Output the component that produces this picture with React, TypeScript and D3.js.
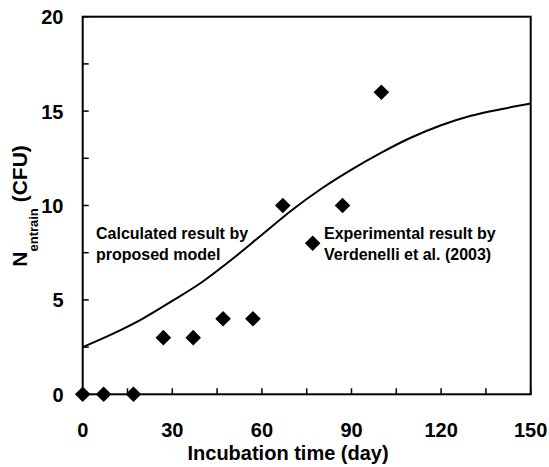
import React from "react";
import * as d3 from "d3";

const expDays = [0, 7, 17, 27, 37, 47, 57, 67, 77, 87, 100];
const expValues = [0, 0, 0, 3, 3, 4, 4, 10, 8, 10, 16];
const modelDays = [0, 10, 20, 30, 40, 50, 60, 70, 80, 90, 100, 110, 120, 130, 140, 150];
const modelValues = [2.5, 3.2, 4.0, 4.95, 5.95, 7.15, 8.45, 9.75, 10.9, 11.9, 12.8, 13.6, 14.25, 14.75, 15.1, 15.4];
const xTickLabels = [0, 30, 60, 90, 120, 150];
const yTickLabels = [0, 5, 10, 15, 20];

const W = 549;
const H = 467;
const left = 82.7;
const right = 530.7;
const top = 16.7;
const bottom = 394.3;
const FONT = "'Liberation Sans', Arial, sans-serif";

export default function App() {
  const x = d3.scaleLinear().domain([0, 150]).range([left, right]);
  const y = d3.scaleLinear().domain([0, 20]).range([bottom, top]);
  const line = d3
    .line<number>()
    .x((_, i) => x(modelDays[i]))
    .y((d) => y(d))
    .curve(d3.curveMonotoneX);
  const xMinor = d3.range(0, 151, 15);
  const yMinor = d3.range(0, 20.01, 2.5);
  const diamond = (cx: number, cy: number, r: number) =>
    `M${cx},${cy - r}L${cx + r},${cy}L${cx},${cy + r}L${cx - r},${cy}Z`;

  return (
    <svg width={W} height={H} style={{ position: "absolute", left: 0, top: 0, background: "#fff" }} fontFamily={FONT}>
      <rect x={0} y={0} width={W} height={H} fill="#fff" />
      {xMinor.map((t) => (
        <line key={"xt" + t} x1={x(t)} x2={x(t)} y1={bottom} y2={bottom - 6} stroke="#000" strokeWidth={1.5} />
      ))}
      {yMinor.map((t) => (
        <line key={"yt" + t} x1={left} x2={left + 6} y1={y(t)} y2={y(t)} stroke="#000" strokeWidth={1.5} />
      ))}
      <path d={line(modelValues) || ""} fill="none" stroke="#000" strokeWidth={2} />
      <rect x={left} y={top} width={right - left} height={bottom - top} fill="none" stroke="#000" strokeWidth={2} />
      {expValues.map((v, i) => (
        <path key={"p" + i} d={diamond(x(expDays[i]), y(v), 7.8)} fill="#000" />
      ))}
      {xTickLabels.map((t) => (
        <text key={"xl" + t} x={x(t)} y={437} textAnchor="middle" fontSize={20} fontWeight="bold">
          {t}
        </text>
      ))}
      {yTickLabels.map((t) => (
        <text key={"yl" + t} x={63.5} y={y(t) + 7.5} textAnchor="end" fontSize={20} fontWeight="bold">
          {t}
        </text>
      ))}
      <text x={187.5} y={460} textAnchor="start" fontSize={20} fontWeight="bold">
        Incubation time (day)
      </text>
      <text transform="translate(27,266.7) rotate(-90)" textAnchor="start" fontSize={21} fontWeight="bold">
        <tspan>N</tspan>
        <tspan fontSize={13} dy={11}>entrain</tspan>
        <tspan dy={-11}> (CFU)</tspan>
      </text>
      <text x={96} y={238.5} fontSize={16} fontWeight="bold">Calculated result by</text>
      <text x={96} y={259.5} fontSize={16} fontWeight="bold">proposed model</text>
      <text x={324} y={238.5} fontSize={16} fontWeight="bold">Experimental result by</text>
      <text x={324} y={259.5} fontSize={16} fontWeight="bold">Verdenelli et al. (2003)</text>
    </svg>
  );
}
